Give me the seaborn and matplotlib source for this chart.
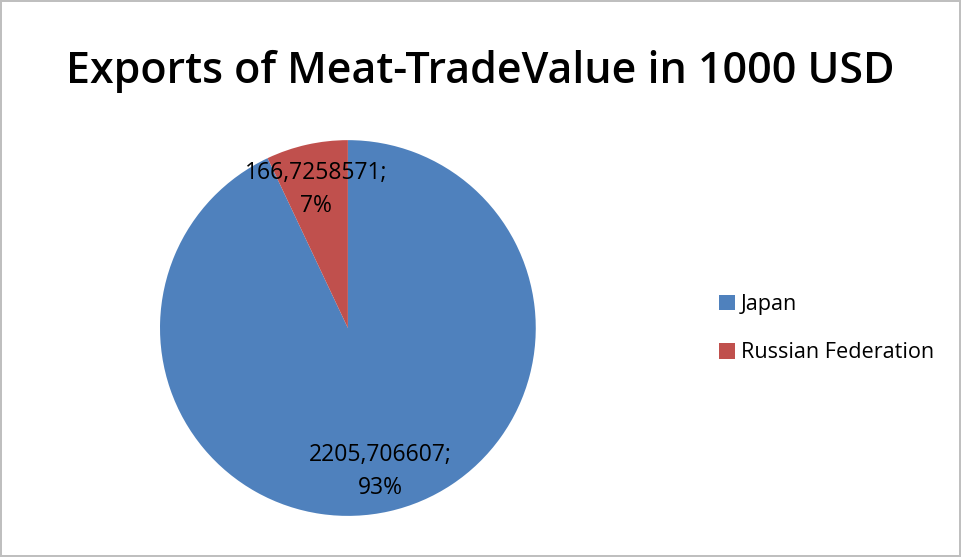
import matplotlib
matplotlib.use("Agg")
import matplotlib.pyplot as plt
import seaborn as sns

# datos del grafico
countries = ["Japan", "Russian Federation"]
trade_values = [2205.706607, 166.7258571]
percents = [93, 7]
colors = ["#4F81BD", "#C0504D"]

sns.set_theme(style="white")
plt.rcParams['font.family'] = ['Open Sans', 'DejaVu Sans']

fig = plt.figure(figsize=(9.61, 5.57), dpi=100, edgecolor="#bfbfbf", linewidth=1.5)
ax = fig.add_axes([0.1665, 0.0736, 0.391, 0.675])

labels = [f"{str(v).replace('.', ',')};\n{p}%" for v, p in zip(trade_values, percents)]
wedges, texts = ax.pie(trade_values, colors=colors, startangle=90, counterclock=False,
                       labels=labels, labeldistance=0.78,
                       wedgeprops={"linewidth": 0, "edgecolor": "none"},
                       textprops={"fontsize": 16.5, "color": "black"})
for t in texts:
    t.set_horizontalalignment("center")
    t.set_verticalalignment("center")
    t.set_linespacing(1.5)
# la etiqueta pequena un poco mas abajo, como en Excel
x, y = texts[1].get_position()
texts[1].set_position((x, y - 0.025))
ax.set_xlim(-1, 1)
ax.set_ylim(-1, 1)
ax.set_aspect("equal")

fig.suptitle("Exports of Meat-TradeValue in 1000 USD", fontsize=31, y=0.872,
             va="center", color="black", fontweight="semibold")

fig.legend(wedges, countries, loc="center left", bbox_to_anchor=(0.728, 0.41),
           frameon=False, fontsize=15.6, handlelength=0.75, handleheight=0.75,
           handletextpad=0.25, labelspacing=1.25, labelcolor="black")

plt.savefig("out.png", dpi=100)
